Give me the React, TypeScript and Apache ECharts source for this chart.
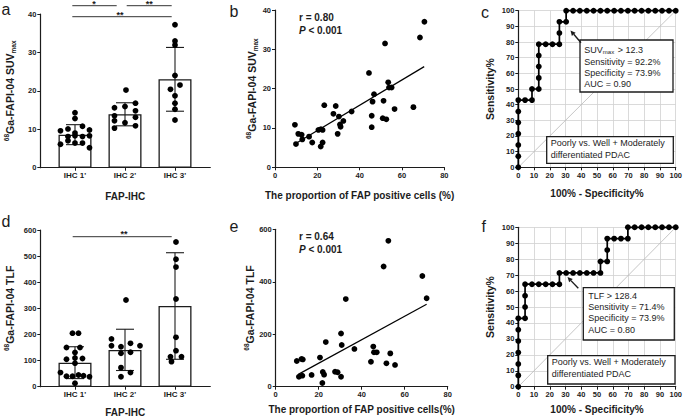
import { useEffect, useRef } from 'react';
import * as echarts from 'echarts';

const FONT = '"Liberation Sans", Arial, Helvetica, sans-serif';
const INK = '#1c1c1c';

// ---------- data ----------
const ihcCategories = ["IHC 1'", "IHC 2'", "IHC 3'"];
const ihcPositions = [1, 2, 3];

// panel a: SUVmax per FAP-IHC group
const suvMean = [8.6, 13.9, 23.0];
const suvSd = [2.6, 3.0, 8.3];
const suvIhc1 = [[1.0, 14.3], [1.0, 12.8], [0.71, 9.6], [0.86, 10.1], [1.15, 10.8], [1.29, 9.8], [1.0, 9.0], [0.86, 8.1], [1.0, 8.3], [1.15, 8.1], [1.29, 8.3], [0.71, 6.1], [0.86, 7.0], [1.0, 6.4], [1.15, 6.4], [1.29, 5.2]];
const suvIhc2 = [[2.02, 20.2], [2.21, 16.8], [2.0, 15.9], [1.79, 15.6], [2.21, 14.8], [1.79, 13.5], [2.21, 13.1], [1.79, 12.2], [2.0, 11.7], [2.21, 10.9], [1.79, 10.3]];
const suvIhc3 = [[3.0, 37.2], [3.0, 33.0], [3.0, 31.9], [3.0, 24.0], [2.91, 20.4], [3.1, 21.5], [3.0, 18.7], [3.0, 16.8], [3.0, 15.2], [3.0, 12.4]];

// panel d: TLF per FAP-IHC group
const tlfMean = [92, 141, 309];
const tlfSd = [61, 79, 204];
const tlfIhc1 = [[0.95, 205], [1.07, 205], [0.83, 150], [1.1, 150], [1.0, 131], [0.83, 105], [1.0, 110], [1.15, 108], [1.0, 90], [0.71, 54], [0.83, 40], [0.95, 40], [1.07, 45], [1.17, 42], [1.29, 38], [1.0, 13]];
const tlfIhc2 = [[2.02, 332], [1.73, 183], [1.73, 157], [1.92, 153], [2.11, 166], [2.3, 157], [1.92, 128], [2.11, 132], [1.92, 73], [2.11, 54], [1.92, 38]];
const tlfIhc3 = [[3.02, 554], [3.02, 488], [3.02, 458], [3.02, 336], [3.02, 189], [3.02, 138], [2.91, 115], [3.13, 115], [2.93, 96]];

// panel b: FAP positive cells (%) vs SUVmax
const fapSuvPoints = [[9.4, 10.8], [9.9, 5.9], [11.0, 8.5], [12.6, 8.3], [12.9, 7.1], [16.1, 7.8], [17.6, 6.3], [20.5, 9.5], [21.7, 9.7], [21.6, 5.3], [22.5, 9.5], [22.5, 6.3], [23.3, 15.8], [27.6, 13.6], [28.7, 15.6], [29.6, 8.5], [30.2, 12.9], [30.7, 10.9], [31.0, 10.3], [32.3, 11.8], [36.2, 14.2], [44.4, 24.0], [45.7, 13.1], [45.7, 10.2], [46.1, 16.7], [46.8, 18.6], [50.9, 12.5], [51.3, 16.9], [52.0, 31.5], [52.6, 12.2], [53.5, 21.6], [53.9, 20.3], [55.1, 20.3], [56.5, 14.8], [65.4, 15.3], [68.5, 33.0], [70.6, 37.0]];
const fapSuvFit = [[9.4, 5.9], [70.5, 25.6]];

// panel e: FAP positive cells (%) vs TLF
const fapTlfPoints = [[9.8, 98], [10.8, 38], [12.0, 106], [12.6, 104], [12.4, 42], [16.7, 45], [20.6, 111], [21.7, 14], [21.9, 56], [22.5, 46], [23.3, 170], [27.6, 57], [28.8, 55], [30.4, 203], [30.7, 159], [30.4, 38], [32.6, 334], [36.6, 144], [44.3, 95], [45.4, 153], [45.7, 131], [47.0, 131], [50.2, 458], [51.5, 89], [52.4, 556], [53.3, 127], [55.5, 83], [68.2, 422], [70.2, 337]];
const fapTlfFit = [[10.5, 47], [70.2, 314]];

// panels c, f: ROC curves [100% - specificity, sensitivity]
const rocSuv = [[0, 0], [0, 7.1], [0, 14.3], [0, 21.4], [0, 28.6], [0, 35.7], [0, 42.9], [4.3, 42.9], [8.7, 42.9], [8.7, 50], [13, 50], [13, 57.1], [13, 64.3], [13, 71.4], [13, 78.6], [17.4, 78.6], [21.7, 78.6], [26.1, 78.6], [26.1, 85.7], [26.1, 92.9], [30.4, 92.9], [30.4, 100], [34.8, 100], [39.1, 100], [43.5, 100], [47.8, 100], [52.2, 100], [56.5, 100], [60.9, 100], [65.2, 100], [69.6, 100], [73.9, 100], [78.3, 100], [82.6, 100], [87, 100], [91.3, 100], [95.7, 100], [100, 100]];
const rocTlf = [[0, 0], [0, 7.1], [0, 14.3], [0, 21.4], [0, 28.6], [0, 35.7], [0, 42.9], [4.3, 42.9], [4.3, 50], [4.3, 57.1], [4.3, 64.3], [8.7, 64.3], [13, 64.3], [17.4, 64.3], [21.7, 64.3], [26.1, 64.3], [26.1, 71.4], [30.4, 71.4], [34.8, 71.4], [39.1, 71.4], [43.5, 71.4], [47.8, 71.4], [52.2, 71.4], [52.2, 78.6], [56.5, 78.6], [56.5, 85.7], [56.5, 92.9], [60.9, 92.9], [65.2, 92.9], [69.6, 92.9], [69.6, 100], [73.9, 100], [78.3, 100], [82.6, 100], [87, 100], [91.3, 100], [95.7, 100], [100, 100]];
const rocReference = [[0, 0], [100, 100]];

const suvRocText = ['Sensitivity = 92.2%', 'Specificity = 73.9%', 'AUC = 0.90'];
const tlfRocText = ['Sensitivity = 71.4%', 'Specificity = 73.9%', 'AUC = 0.80'];
const rocGroupText = ['Poorly vs. Well + Moderately', 'differentiated PDAC'];

// ---------- styles ----------
const tickLabel = { color: INK, fontFamily: FONT, fontWeight: 'bold' as const, fontSize: 7.5, margin: 4 };
const axLine = { show: true, onZero: false, lineStyle: { color: INK, width: 1.2 } };
const axTick = { show: true, length: 3, lineStyle: { color: INK, width: 1 } };
const xNameStyle = { fontFamily: FONT, fontWeight: 'bold' as const, fontSize: 10, color: INK };
const yRich = {
  sup: { fontFamily: FONT, fontWeight: 'bold', fontSize: 6.5, color: INK, verticalAlign: 'top', lineHeight: 8 },
  m: { fontFamily: FONT, fontWeight: 'bold', fontSize: 10.5, color: INK, lineHeight: 14 },
  sub: { fontFamily: FONT, fontWeight: 'bold', fontSize: 6.5, color: INK, verticalAlign: 'bottom', lineHeight: 8 },
};
const yNameStyle = { fontFamily: FONT, fontWeight: 'bold' as const, fontSize: 10.5, color: INK, rich: yRich };
const rocSplit = { show: true, lineStyle: { color: '#d0d0d0', width: 0.8 } };

function groupXAxis(gridIndex: number, nameGap: number) {
  return {
    type: 'value', gridIndex, min: 0.306, max: 3.706,
    axisLine: axLine, splitLine: { show: false },
    axisTick: { ...axTick, customValues: ihcPositions },
    axisLabel: { ...tickLabel, fontSize: 8, customValues: ihcPositions, formatter: (v: number) => ihcCategories[Math.round(v) - 1] ?? '' },
    name: 'FAP-IHC', nameLocation: 'middle', nameGap, nameTextStyle: xNameStyle,
  };
}

function valueAxis(gridIndex: number, min: number, max: number, interval: number, name: string, nameGap: number, nameStyle: any, split = false) {
  return {
    type: 'value', gridIndex, min, max, interval,
    axisLine: axLine, axisTick: axTick, axisLabel: tickLabel,
    splitLine: split ? rocSplit : { show: false },
    name, nameLocation: 'middle', nameGap, nameTextStyle: nameStyle,
  };
}

function errorBars(idx: number, means: number[], sds: number[]) {
  return {
    type: 'custom', xAxisIndex: idx, yAxisIndex: idx, z: 3,
    data: ihcPositions.map((x, i) => [x, means[i], sds[i]]),
    encode: { x: 0, y: 1 },
    renderItem: (_p: any, api: any) => {
      const x = api.value(0), m = api.value(1), s = api.value(2);
      const top = api.coord([x, m + s]);
      const bot = api.coord([x, m - s]);
      const half = 9;
      const st = { stroke: INK, lineWidth: 1.1 };
      return {
        type: 'group', children: [
          { type: 'line', shape: { x1: top[0], y1: top[1], x2: bot[0], y2: bot[1] }, style: st },
          { type: 'line', shape: { x1: top[0] - half, y1: top[1], x2: top[0] + half, y2: top[1] }, style: st },
          { type: 'line', shape: { x1: bot[0] - half, y1: bot[1], x2: bot[0] + half, y2: bot[1] }, style: st },
        ],
      };
    },
  };
}

function barSeries(idx: number, means: number[]) {
  return {
    type: 'bar', xAxisIndex: idx, yAxisIndex: idx, z: 2, barWidth: 33,
    data: ihcPositions.map((x, i) => [x, means[i]]),
    itemStyle: { color: '#fff', borderColor: INK, borderWidth: 1.3 },
  };
}

function dots(idx: number, data: number[][], size = 5.8) {
  return { type: 'scatter', xAxisIndex: idx, yAxisIndex: idx, z: 4, data, symbolSize: size, itemStyle: { color: '#000', opacity: 1 } };
}

function fitLine(idx: number, data: number[][]) {
  return { type: 'line', xAxisIndex: idx, yAxisIndex: idx, z: 3, data, symbol: 'none', lineStyle: { color: '#000', width: 1.2 } };
}

function rocSeries(idx: number, data: number[][]) {
  return [
    { type: 'line', xAxisIndex: idx, yAxisIndex: idx, z: 2, data: rocReference, symbol: 'none', lineStyle: { color: '#b8b8b8', width: 0.8 } },
    { type: 'line', xAxisIndex: idx, yAxisIndex: idx, z: 3, data, symbol: 'circle', symbolSize: 5.8, showAllSymbol: true, clip: false, itemStyle: { color: '#000' }, lineStyle: { color: '#000', width: 1.7 } },
  ];
}

// ---------- graphic helpers ----------
function txt(text: string, x: number, y: number, o: any = {}) {
  const align = o.align ?? 'left';
  const va = o.va ?? 'middle';
  return {
    type: 'text', x, y, z: 100,
    style: {
      text, fill: INK, fontFamily: FONT, fontSize: o.size ?? 9, fontWeight: o.weight ?? 'normal',
      fontStyle: o.style ?? 'normal', align, verticalAlign: va, textAlign: align, textVerticalAlign: va, rich: o.rich,
    },
  };
}
function seg(x1: number, y1: number, x2: number, y2: number, color = '#333', w = 1) {
  return { type: 'line', z: 100, shape: { x1, y1, x2, y2 }, style: { stroke: color, lineWidth: w } };
}
function box(x: number, y: number, width: number, height: number) {
  return { type: 'rect', z: 99, shape: { x, y, width, height }, style: { fill: '#fff', stroke: INK, lineWidth: 1.3 } };
}
function arrow(x1: number, y1: number, x2: number, y2: number) {
  const dx = x2 - x1, dy = y2 - y1;
  const len = Math.hypot(dx, dy);
  const ux = dx / len, uy = dy / len;
  const bx = x2 - ux * 5, by = y2 - uy * 5;
  const px = -uy * 2.5, py = ux * 2.5;
  return [
    seg(x1, y1, bx, by, INK, 1.4),
    { type: 'polygon', z: 100, shape: { points: [[x2, y2], [bx + px, by + py], [bx - px, by - py]] }, style: { fill: INK } },
  ];
}

const boxRich = {
  n: { fontFamily: FONT, fontSize: 9, color: INK },
  s: { fontFamily: FONT, fontSize: 6, color: INK, verticalAlign: 'bottom', lineHeight: 8, padding: [0, 1, 0, 0] },
};
const pRich = {
  i: { fontFamily: FONT, fontSize: 10, fontWeight: 'bold', fontStyle: 'italic', color: INK },
  b: { fontFamily: FONT, fontSize: 10, fontWeight: 'bold', color: INK },
};

export default function App() {
  const ref = useRef<HTMLDivElement>(null);
  useEffect(() => {
    if (!ref.current) return;
    const chart = echarts.init(ref.current, undefined, { renderer: 'svg' });
    const option: any = {
      animation: false,
      backgroundColor: '#fff',
      grid: [
        { left: 40.3, top: 14, width: 170, height: 153.7 },
        { left: 275, top: 10, width: 169.3, height: 157.3 },
        { left: 518.3, top: 10.7, width: 158.4, height: 156.6 },
        { left: 40.3, top: 230, width: 170, height: 156.7 },
        { left: 275.7, top: 229.3, width: 172, height: 157.4 },
        { left: 518.3, top: 227.3, width: 159.4, height: 159.4 },
      ],
      xAxis: [
        groupXAxis(0, 24),
        valueAxis(1, 0, 80, 20, 'The proportion of FAP positive cells (%)', 23, xNameStyle),
        valueAxis(2, 0, 100, 10, '100% - Specificity%', 21, xNameStyle, true),
        groupXAxis(3, 21),
        valueAxis(4, 0, 80, 20, 'The proportion of FAP positive cells(%)', 18, xNameStyle),
        valueAxis(5, 0, 100, 10, '100% - Specificity%', 18, xNameStyle, true),
      ],
      yAxis: [
        valueAxis(0, 0, 40, 10, '{sup|68}{m|Ga-FAPI-04 SUV}{sub|max}', 23, yNameStyle),
        valueAxis(1, 0, 40, 10, '{sup|68}{m|Ga-FAPI-04 SUV}{sub|max}', 16, yNameStyle),
        valueAxis(2, 0, 100, 10, 'Sensitivity%', 23, { ...xNameStyle, fontSize: 10.5 }, true),
        valueAxis(3, 0, 600, 100, '{sup|68}{m|Ga-FAPI-04 TLF}', 23, yNameStyle),
        valueAxis(4, 0, 600, 200, '{sup|68}{m|Ga-FAPI-04 TLF}', 18, yNameStyle),
        valueAxis(5, 0, 100, 10, 'Sensitivity%', 23, { ...xNameStyle, fontSize: 10.5 }, true),
      ],
      series: [
        barSeries(0, suvMean),
        errorBars(0, suvMean, suvSd),
        dots(0, suvIhc1), dots(0, suvIhc2), dots(0, suvIhc3),
        dots(1, fapSuvPoints), fitLine(1, fapSuvFit),
        ...rocSeries(2, rocSuv),
        barSeries(3, tlfMean),
        errorBars(3, tlfMean, tlfSd),
        dots(3, tlfIhc1), dots(3, tlfIhc2), dots(3, tlfIhc3),
        dots(4, fapTlfPoints), fitLine(4, fapTlfFit),
        ...rocSeries(5, rocTlf),
      ],
      graphic: {
        elements: [
          // panel letters
          txt('a', 1.5, 9.6, { size: 16 }),
          txt('b', 229.5, 11.3, { size: 16 }),
          txt('c', 481, 12, { size: 16 }),
          txt('d', 1.5, 221.3, { size: 16 }),
          txt('e', 229.5, 226.3, { size: 16 }),
          txt('f', 481.5, 226.3, { size: 16 }),
          // significance (a)
          seg(72.3, 5.7, 116.7, 5.7), seg(126.7, 5.7, 171.7, 5.7), seg(72.3, 16.7, 171.7, 16.7),
          txt('*', 94, -0.7, { size: 9, weight: 'bold', align: 'center', va: 'top' }),
          txt('**', 149.3, -0.7, { size: 9, weight: 'bold', align: 'center', va: 'top' }),
          txt('**', 120, 10.6, { size: 9, weight: 'bold', align: 'center', va: 'top' }),
          // significance (d)
          seg(72.7, 236.7, 171.7, 236.7),
          txt('**', 124, 229.3, { size: 9, weight: 'bold', align: 'center', va: 'top' }),
          // correlation stats
          txt('r = 0.80', 299, 17, { size: 10, weight: 'bold' }),
          txt('{i|P}{b| < 0.001}', 299, 30, { size: 10, weight: 'bold', rich: pRich }),
          txt('r = 0.64', 299, 236, { size: 10, weight: 'bold' }),
          txt('{i|P}{b| < 0.001}', 299, 249, { size: 10, weight: 'bold', rich: pRich }),
          // ROC c
          ...arrow(581, 42.7, 570.5, 30.5),
          box(580, 40, 93, 52),
          txt('{n|SUV}{s|max}{n| > 12.3}', 584.3, 50, { rich: boxRich }),
          txt(suvRocText[0], 584.3, 61.7), txt(suvRocText[1], 584.3, 72.9), txt(suvRocText[2], 584.3, 84.1),
          box(546.7, 136.7, 126.6, 26.6),
          txt(rocGroupText[0], 550.7, 143.3), txt(rocGroupText[1], 550.7, 155),
          // ROC f
          ...arrow(578.3, 288.3, 567.5, 277),
          box(583.3, 287.7, 91, 52.3),
          txt('TLF > 128.4', 588.3, 295.7), txt(tlfRocText[0], 588.3, 306.9), txt(tlfRocText[1], 588.3, 318.3), txt(tlfRocText[2], 588.3, 329.7),
          box(547.7, 355.7, 127.3, 28.3),
          txt(rocGroupText[0], 551.7, 362.2), txt(rocGroupText[1], 551.7, 373.8),
        ],
      },
    };
    chart.setOption(option);
    return () => chart.dispose();
  }, []);
  return <div ref={ref} style={{ position: 'absolute', left: 0, top: 0, width: 685, height: 419, background: '#fff' }} />;
}
